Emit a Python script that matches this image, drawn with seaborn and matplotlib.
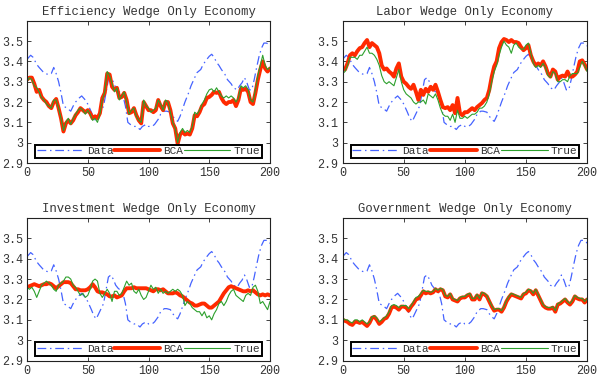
import numpy as np
import pandas as pd
import matplotlib
matplotlib.use("Agg")
import matplotlib.pyplot as plt
import seaborn as sns

titles = ["Efficiency Wedge Only Economy", "Labor Wedge Only Economy",
          "Investment Wedge Only Economy", "Government Wedge Only Economy"]
legend_labels = ["Data", "BCA", "True"]
x_ticks = [0, 50, 100, 150, 200]
y_ticks = [2.9, 3.0, 3.1, 3.2, 3.3, 3.4, 3.5]
y_tick_labels = ["2.9", "3", "3.1", "3.2", "3.3", "3.4", "3.5"]

# Data series (same in all panels)
data_t = [0, 3, 5, 8, 10, 13, 15, 18, 20, 22, 24, 26, 28, 30, 33, 36, 38, 40, 43, 45, 48, 50,
          53, 55, 57, 59, 61, 63, 65, 67, 69, 71, 73, 75, 77, 79, 81, 83, 85, 88, 90, 93, 95,
          98, 100, 103, 105, 108, 110, 113, 115, 118, 120, 122, 124, 126, 128, 130, 133, 135,
          138, 140, 143, 145, 148, 150, 152, 154, 156, 158, 160, 163, 165, 168, 170, 173, 175,
          177, 179, 181, 183, 185, 187, 189, 191, 193, 195, 197, 199, 200]
data_v = [3.41, 3.43, 3.42, 3.385, 3.37, 3.35, 3.34, 3.335, 3.34, 3.37, 3.34, 3.30, 3.245, 3.18,
          3.17, 3.155, 3.18, 3.20, 3.22, 3.23, 3.21, 3.19, 3.15, 3.12, 3.105, 3.13, 3.155, 3.18,
          3.245, 3.31, 3.32, 3.30, 3.27, 3.255, 3.245, 3.23, 3.18, 3.10, 3.09, 3.08, 3.08, 3.065,
          3.08, 3.09, 3.08, 3.08, 3.09, 3.115, 3.14, 3.155, 3.155, 3.15, 3.13, 3.115, 3.105, 3.13,
          3.165, 3.20, 3.245, 3.28, 3.32, 3.345, 3.36, 3.385, 3.41, 3.425, 3.435, 3.42, 3.395,
          3.38, 3.36, 3.335, 3.31, 3.29, 3.27, 3.26, 3.28, 3.295, 3.32, 3.295, 3.26, 3.26, 3.31,
          3.37, 3.425, 3.465, 3.49, 3.49, 3.485, 3.475]

# Model series on a grid t = 0, 2, ..., 200
model_t = list(range(0, 201, 2))

eff_bca = [3.31, 3.32, 3.32, 3.29, 3.25, 3.26, 3.225, 3.21, 3.20, 3.18, 3.17, 3.20, 3.215, 3.17,
           3.12, 3.055, 3.095, 3.11, 3.095, 3.11, 3.135, 3.15, 3.17, 3.16, 3.15, 3.16, 3.145,
           3.12, 3.13, 3.12, 3.145, 3.22, 3.245, 3.34, 3.335, 3.275, 3.26, 3.27, 3.22, 3.225,
           3.245, 3.21, 3.145, 3.15, 3.17, 3.135, 3.11, 3.095, 3.20, 3.18, 3.16, 3.16, 3.15,
           3.16, 3.21, 3.18, 3.16, 3.20, 3.20, 3.16, 3.095, 3.07, 2.995, 3.04, 3.055, 3.04,
           3.045, 3.04, 3.07, 3.135, 3.13, 3.15, 3.18, 3.19, 3.22, 3.225, 3.235, 3.25, 3.245,
           3.25, 3.22, 3.20, 3.19, 3.20, 3.20, 3.21, 3.18, 3.21, 3.265, 3.26, 3.265, 3.25, 3.20,
           3.19, 3.245, 3.31, 3.36, 3.40, 3.365, 3.35, 3.365]
eff_true = [3.30, 3.32, 3.31, 3.28, 3.27, 3.25, 3.22, 3.21, 3.19, 3.18, 3.17, 3.21, 3.21, 3.17,
            3.12, 3.06, 3.10, 3.12, 3.09, 3.12, 3.14, 3.16, 3.17, 3.16, 3.14, 3.16, 3.14, 3.11,
            3.12, 3.10, 3.14, 3.21, 3.25, 3.35, 3.33, 3.29, 3.25, 3.27, 3.21, 3.23, 3.25, 3.20,
            3.14, 3.16, 3.17, 3.13, 3.11, 3.10, 3.21, 3.18, 3.17, 3.15, 3.16, 3.17, 3.21, 3.19,
            3.16, 3.21, 3.20, 3.15, 3.10, 3.07, 3.00, 3.05, 3.07, 3.05, 3.06, 3.05, 3.08, 3.15,
            3.14, 3.16, 3.19, 3.21, 3.24, 3.26, 3.265, 3.25, 3.27, 3.25, 3.23, 3.22, 3.23, 3.22,
            3.23, 3.22, 3.20, 3.22, 3.28, 3.27, 3.28, 3.26, 3.21, 3.20, 3.26, 3.33, 3.38, 3.43,
            3.38, 3.36, 3.37]

lab_bca = [3.365, 3.36, 3.39, 3.43, 3.44, 3.43, 3.45, 3.465, 3.47, 3.49, 3.505, 3.47, 3.49, 3.48,
           3.47, 3.44, 3.38, 3.36, 3.365, 3.35, 3.34, 3.325, 3.365, 3.39, 3.325, 3.30, 3.29,
           3.275, 3.265, 3.285, 3.25, 3.21, 3.26, 3.235, 3.265, 3.25, 3.275, 3.26, 3.285, 3.25,
           3.21, 3.175, 3.17, 3.175, 3.16, 3.185, 3.145, 3.22, 3.145, 3.135, 3.15, 3.15, 3.16,
           3.17, 3.16, 3.175, 3.185, 3.195, 3.21, 3.22, 3.26, 3.325, 3.375, 3.40, 3.465, 3.495,
           3.51, 3.505, 3.495, 3.505, 3.495, 3.495, 3.49, 3.47, 3.455, 3.465, 3.48, 3.43, 3.40,
           3.38, 3.39, 3.38, 3.40, 3.375, 3.34, 3.325, 3.36, 3.35, 3.31, 3.325, 3.33, 3.325,
           3.35, 3.325, 3.325, 3.335, 3.35, 3.40, 3.405, 3.385, 3.36]
lab_true = [3.34, 3.35, 3.38, 3.42, 3.42, 3.42, 3.41, 3.43, 3.43, 3.45, 3.47, 3.44, 3.44, 3.43,
            3.41, 3.38, 3.33, 3.30, 3.29, 3.30, 3.29, 3.28, 3.32, 3.36, 3.30, 3.26, 3.24, 3.23,
            3.22, 3.20, 3.19, 3.20, 3.20, 3.21, 3.19, 3.24, 3.23, 3.22, 3.24, 3.21, 3.17, 3.14,
            3.13, 3.13, 3.11, 3.14, 3.10, 3.16, 3.12, 3.12, 3.13, 3.12, 3.13, 3.14, 3.14, 3.15,
            3.17, 3.17, 3.18, 3.20, 3.24, 3.30, 3.35, 3.38, 3.43, 3.47, 3.50, 3.48, 3.47, 3.44,
            3.48, 3.49, 3.47, 3.46, 3.46, 3.48, 3.49, 3.44, 3.39, 3.37, 3.38, 3.37, 3.39, 3.37,
            3.33, 3.32, 3.35, 3.34, 3.30, 3.30, 3.31, 3.31, 3.30, 3.33, 3.34, 3.34, 3.34, 3.37,
            3.40, 3.38, 3.35]

inv_bca = [3.26, 3.265, 3.27, 3.275, 3.27, 3.265, 3.27, 3.275, 3.275, 3.28, 3.275, 3.265, 3.255,
           3.265, 3.275, 3.285, 3.285, 3.285, 3.28, 3.265, 3.25, 3.25, 3.245, 3.245, 3.245, 3.25,
           3.26, 3.275, 3.26, 3.24, 3.235, 3.235, 3.23, 3.225, 3.215, 3.215, 3.22, 3.21, 3.215,
           3.22, 3.24, 3.255, 3.255, 3.255, 3.26, 3.255, 3.255, 3.255, 3.255, 3.255, 3.25, 3.245,
           3.24, 3.25, 3.25, 3.245, 3.25, 3.24, 3.23, 3.23, 3.23, 3.235, 3.23, 3.22, 3.215, 3.205,
           3.195, 3.185, 3.18, 3.17, 3.17, 3.175, 3.18, 3.18, 3.17, 3.16, 3.16, 3.17, 3.18, 3.19,
           3.21, 3.23, 3.245, 3.26, 3.265, 3.26, 3.255, 3.25, 3.245, 3.24, 3.24, 3.245, 3.24,
           3.245, 3.235, 3.225, 3.22, 3.225, 3.22, 3.225, 3.22]
inv_true = [3.26, 3.25, 3.26, 3.24, 3.21, 3.24, 3.27, 3.28, 3.29, 3.28, 3.27, 3.25, 3.24, 3.27,
            3.28, 3.29, 3.31, 3.31, 3.30, 3.27, 3.26, 3.24, 3.22, 3.23, 3.21, 3.22, 3.25, 3.29,
            3.30, 3.29, 3.23, 3.21, 3.23, 3.25, 3.23, 3.19, 3.24, 3.24, 3.22, 3.23, 3.26, 3.29,
            3.27, 3.28, 3.24, 3.23, 3.25, 3.22, 3.20, 3.21, 3.24, 3.27, 3.25, 3.26, 3.23, 3.25,
            3.23, 3.24, 3.23, 3.24, 3.25, 3.24, 3.25, 3.24, 3.22, 3.17, 3.19, 3.18, 3.16, 3.15,
            3.14, 3.14, 3.12, 3.14, 3.11, 3.12, 3.10, 3.13, 3.15, 3.18, 3.19, 3.17, 3.19, 3.22,
            3.24, 3.25, 3.22, 3.21, 3.20, 3.19, 3.22, 3.23, 3.22, 3.26, 3.27, 3.24, 3.18, 3.19,
            3.17, 3.15, 3.19]

gov_bca = [3.10, 3.095, 3.09, 3.08, 3.075, 3.09, 3.09, 3.085, 3.09, 3.08, 3.07, 3.085, 3.11,
           3.115, 3.10, 3.08, 3.09, 3.105, 3.11, 3.13, 3.16, 3.165, 3.16, 3.15, 3.165, 3.165,
           3.16, 3.145, 3.165, 3.18, 3.20, 3.205, 3.22, 3.24, 3.23, 3.235, 3.23, 3.235, 3.25,
           3.24, 3.25, 3.245, 3.215, 3.21, 3.225, 3.20, 3.195, 3.19, 3.205, 3.21, 3.21, 3.22,
           3.225, 3.20, 3.20, 3.22, 3.20, 3.23, 3.225, 3.215, 3.19, 3.165, 3.145, 3.15, 3.15,
           3.14, 3.16, 3.19, 3.21, 3.225, 3.22, 3.215, 3.21, 3.205, 3.225, 3.23, 3.245, 3.24,
           3.225, 3.245, 3.22, 3.195, 3.17, 3.16, 3.155, 3.155, 3.16, 3.14, 3.175, 3.18, 3.19,
           3.20, 3.185, 3.175, 3.19, 3.215, 3.205, 3.20, 3.20, 3.185, 3.20]
gov_true = [3.11, 3.10, 3.10, 3.09, 3.085, 3.10, 3.10, 3.09, 3.10, 3.09, 3.08, 3.09, 3.115,
            3.12, 3.11, 3.09, 3.10, 3.11, 3.12, 3.14, 3.17, 3.175, 3.17, 3.16, 3.17, 3.17,
            3.17, 3.155, 3.17, 3.19, 3.21, 3.215, 3.23, 3.245, 3.24, 3.24, 3.235, 3.24, 3.255,
            3.245, 3.255, 3.25, 3.22, 3.215, 3.23, 3.205, 3.20, 3.195, 3.21, 3.215, 3.215, 3.225,
            3.23, 3.205, 3.205, 3.225, 3.205, 3.235, 3.23, 3.22, 3.195, 3.17, 3.15, 3.155, 3.155,
            3.145, 3.165, 3.195, 3.215, 3.23, 3.225, 3.22, 3.215, 3.21, 3.23, 3.235, 3.25, 3.245,
            3.23, 3.25, 3.225, 3.20, 3.175, 3.165, 3.16, 3.16, 3.165, 3.145, 3.18, 3.185, 3.195,
            3.205, 3.19, 3.18, 3.195, 3.22, 3.21, 3.205, 3.205, 3.19, 3.205]

bca_series = [eff_bca, lab_bca, inv_bca, gov_bca]
true_series = [eff_true, lab_true, inv_true, gov_true]

sns.set_style("ticks")
plt.rcParams['font.family'] = ['Liberation Mono', 'DejaVu Sans Mono']

fig = plt.figure(figsize=(6.0, 3.8), dpi=100)
positions = [[0.045, 0.571, 0.405, 0.3745], [0.571, 0.571, 0.4075, 0.3745],
             [0.045, 0.051, 0.405, 0.3755], [0.571, 0.051, 0.4075, 0.3755]]

blue = "#4563ff"
red = "#ff2a00"
green = "#2ca02c"
grey = "#333333"

for i in range(4):
    ax = fig.add_axes(positions[i])
    df_data = pd.DataFrame({"t": data_t, "v": data_v})
    df_model = pd.DataFrame({"t": model_t, "bca": bca_series[i], "true": true_series[i]})
    sns.lineplot(data=df_data, x="t", y="v", ax=ax, color=blue, lw=0.9,
                 label=legend_labels[0], dashes=False)
    ax.lines[-1].set_dashes([7, 3, 1.2, 3])
    sns.lineplot(data=df_model, x="t", y="bca", ax=ax, color=red, lw=2.8,
                 label=legend_labels[1])
    sns.lineplot(data=df_model, x="t", y="true", ax=ax, color=green, lw=0.8,
                 label=legend_labels[2])
    ax.set_xlim(0, 200)
    ax.set_ylim(2.9, 3.6)
    ax.set_xticks(x_ticks)
    ax.set_xticklabels([str(v) for v in x_ticks])
    ax.set_yticks(y_ticks)
    ax.set_yticklabels(y_tick_labels)
    ax.set_xlabel("")
    ax.set_ylabel("")
    ax.tick_params(direction="in", top=True, right=True, length=3, width=0.6,
                   labelsize=8.5, labelcolor=grey, color="#222222", pad=3)
    for s in ax.spines.values():
        s.set_linewidth(0.8)
        s.set_color("#222222")
    ax.set_title(titles[i], fontsize=8.8, color=grey, pad=4)
    leg = ax.legend(loc="lower left", bbox_to_anchor=(0.033, 0.035, 0.934, 0.088),
                    mode="expand", ncol=3, fontsize=8, frameon=True, fancybox=False,
                    borderpad=0.15, handlelength=4.2, handletextpad=0.3, columnspacing=1.0,
                    borderaxespad=0.0)
    fr = leg.get_frame()
    fr.set_edgecolor("black")
    fr.set_linewidth(1.4)
    fr.set_alpha(1)
    for txt in leg.get_texts():
        txt.set_color(grey)

fig.savefig("out.png", dpi=100)
